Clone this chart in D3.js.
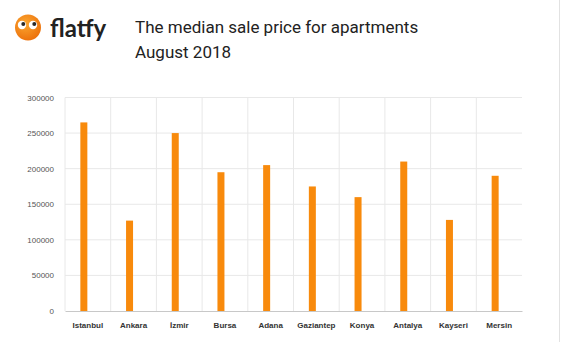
<!DOCTYPE html>
<html>
<head>
<meta charset="utf-8">
<script src="https://cdn.jsdelivr.net/npm/d3@7"></script>
<style>
  body { margin: 0; background: #fff; }
  #chart { width: 561px; height: 342px; }
</style>
</head>
<body>
<div id="chart"></div>
<script>
const cities = ["Istanbul", "Ankara", "İzmir", "Bursa", "Adana", "Gaziantep", "Konya", "Antalya", "Kayseri", "Mersin"];
const prices = [265000, 127000, 250000, 195000, 205000, 175000, 160000, 210000, 128000, 190000];
const yTicks = [0, 50000, 100000, 150000, 200000, 250000, 300000];

const data = cities.map((c, i) => ({city: c, price: prices[i]}));

const W = 561, H = 342;
const margin = {top: 97.5, right: 39, bottom: 31, left: 65},
    width = W - margin.left - margin.right,
    height = H - margin.top - margin.bottom;

const svg = d3.select("#chart").append("svg")
    .attr("width", W)
    .attr("height", H);

// logo
const defs = svg.append("defs");
const grad = defs.append("radialGradient").attr("id", "lg")
    .attr("cx", "40%").attr("cy", "35%").attr("r", "70%");
grad.append("stop").attr("offset", "0%").attr("stop-color", "#fba731");
grad.append("stop").attr("offset", "100%").attr("stop-color", "#ec6f0a");

const logo = svg.append("g").attr("transform", "translate(28,27.5)");
logo.append("circle").attr("r", 13).attr("fill", "url(#lg)");
[-6, 5].forEach(dx => {
    logo.append("circle").attr("cx", dx).attr("cy", -2.5).attr("r", 4.2).attr("fill", "#fff");
    logo.append("circle").attr("cx", dx + 1.3).attr("cy", -3.6).attr("r", 2).attr("fill", "#2a2a2a");
});
svg.append("text")
    .attr("x", 50).attr("y", 36.5)
    .attr("font-family", "Lato, sans-serif")
    .attr("font-weight", "bold")
    .attr("font-size", 24)
    .attr("fill", "#222")
    .text("flatfy");

// titles
svg.append("text")
    .attr("x", 135).attr("y", 33)
    .attr("font-family", "Roboto, sans-serif")
    .attr("font-size", 17)
    .attr("fill", "#222")
    .text("The median sale price for apartments");
svg.append("text")
    .attr("x", 135).attr("y", 58)
    .attr("font-family", "Roboto, sans-serif")
    .attr("font-size", 17)
    .attr("fill", "#222")
    .text("August 2018");

const g = svg.append("g")
    .attr("transform", `translate(${margin.left},${margin.top})`);

const x = d3.scaleBand()
    .range([0, width])
    .domain(cities)
    .padding(0);

const y = d3.scaleLinear()
    .domain([0, 300000])
    .range([height, 0]);

// horizontal grid
g.append("g")
    .selectAll("line")
    .data(yTicks.slice(1))
    .enter()
    .append("line")
    .attr("x1", 0).attr("x2", width)
    .attr("y1", d => y(d)).attr("y2", d => y(d))
    .attr("stroke", "#e8e8e8");

// vertical grid at band boundaries
g.append("g")
    .selectAll("line")
    .data(cities)
    .enter()
    .append("line")
    .attr("x1", d => x(d)).attr("x2", d => x(d))
    .attr("y1", 0).attr("y2", height)
    .attr("stroke", "#e8e8e8");

// Y axis labels
const yAxis = g.append("g")
    .call(d3.axisLeft(y).tickValues(yTicks).tickFormat(d3.format("d")).tickSize(0).tickPadding(11));
yAxis.select(".domain").remove();
yAxis.selectAll("text")
    .attr("font-family", "Arial, 'Liberation Sans', sans-serif")
    .attr("font-size", 8)
    .attr("fill", "#555");

// Bars
g.selectAll("mybar")
    .data(data)
    .enter()
    .append("rect")
    .attr("x", d => x(d.city) + x.bandwidth() / 2 - 7.5)
    .attr("y", d => y(d.price))
    .attr("width", 7)
    .attr("height", d => height - y(d.price))
    .attr("fill", "#f88a0c");

// X axis
const xAxis = g.append("g")
    .attr("transform", `translate(0,${height})`)
    .call(d3.axisBottom(x).tickSize(0).tickPadding(11));
xAxis.select(".domain").attr("stroke", "#c8c8c8");
xAxis.selectAll("text")
    .attr("font-family", "Arial, 'Liberation Sans', sans-serif")
    .attr("font-weight", "bold")
    .attr("font-size", 8)
    .attr("fill", "#333");

// right border
svg.append("line")
    .attr("x1", 559.5).attr("x2", 559.5)
    .attr("y1", 0).attr("y2", H)
    .attr("stroke", "#e2e2e2");
</script>
</body>
</html>
